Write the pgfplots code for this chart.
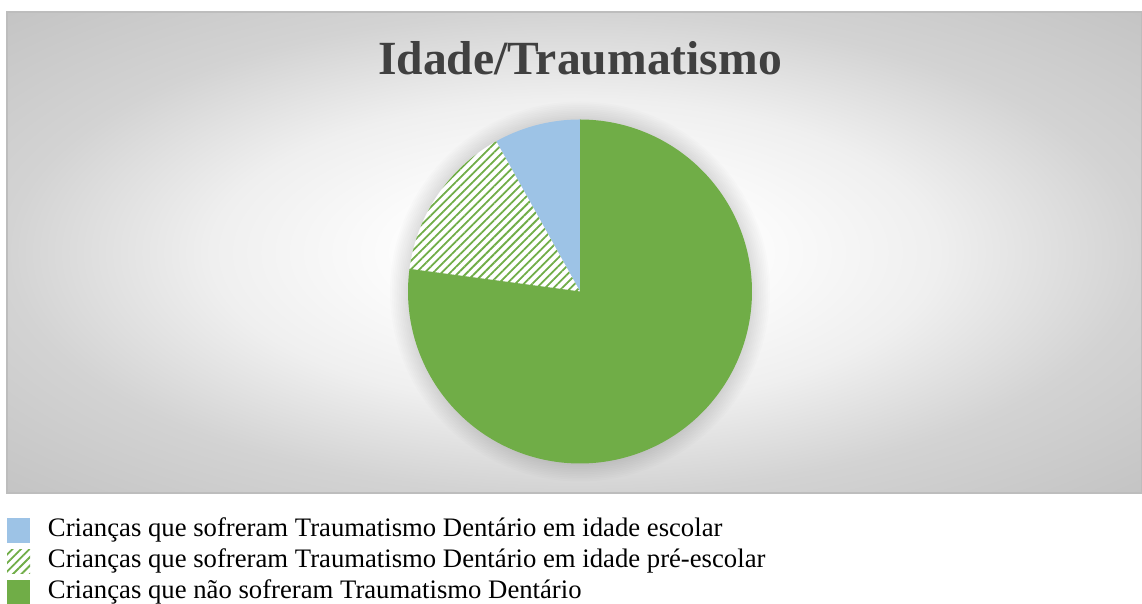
\documentclass[border=0pt]{standalone}
\usepackage{fontspec}
\setmainfont{Liberation Serif}
\usepackage{pgfplots}
\pgfplotsset{compat=1.18}
\usetikzlibrary{patterns.meta}
\definecolor{sliceblue}{HTML}{9DC3E6}
\definecolor{slicegreen}{HTML}{70AD47}
\definecolor{titlegray}{HTML}{404040}
\definecolor{bgmid}{HTML}{EFEFEF}
\definecolor{bgside}{HTML}{D3D3D3}
\definecolor{bgedge}{HTML}{C3C3C3}
\definecolor{bgborder}{HTML}{BDBDBD}
\pgfdeclareradialshading{chartbg}{\pgfpoint{0bp}{0bp}}{%
  color(0bp)=(white); color(6bp)=(white); color(16bp)=(bgmid);
  color(25bp)=(bgside); color(36bp)=(bgedge); color(50bp)=(bgedge)}
\begin{document}
\begin{tikzpicture}
% data: share of children (percent)
\pgfmathsetmacro{\vA}{8.1}  % idade escolar
\pgfmathsetmacro{\vB}{14.8} % idade pre-escolar
\pgfmathsetmacro{\vC}{77.1} % nao sofreram
\pgfmathsetmacro{\aA}{90}
\pgfmathsetmacro{\aB}{\aA+3.6*\vA}
\pgfmathsetmacro{\aC}{\aB+3.6*\vB}
\pgfmathsetmacro{\aD}{\aC+3.6*\vC}
% chart area background (1 unit = 1 px of the reference, y upwards)
\begin{scope}[x=0.5pt,y=0.5pt]
  \shade[shading=chartbg] (7,111) rectangle (1142,592);
  \draw[bgborder, line width=0.6pt] (7,111) rectangle (1142,592);
  \foreach \k in {1,...,10}{
    \fill[black, opacity=0.011] (580,312.5) circle [radius=172+1.8*\k];
  }
  \node[anchor=base, font=\bfseries\fontsize{23.8}{28}\selectfont, text=titlegray] at (580,529) {Idade/Traumatismo};
\end{scope}
\begin{axis}[
  width=571pt, height=302pt, scale only axis,
  xmin=0, xmax=1142, ymin=0, ymax=604,
  hide axis, clip=false,
  legend cell align=left,
  legend image code/.code={\path[#1, draw=none] (0pt,-6.2pt) rectangle (11.5pt,6.2pt);},
  legend style={
    at={(axis cs:7,86)}, anchor=north west,
    draw=none, fill=none, inner sep=0pt, outer sep=0pt,
    font=\fontsize{13.35}{15}\selectfont,
    row sep=3pt,
    nodes={inner sep=0pt, text height=9.5pt, text depth=3pt},
    /tikz/every odd column/.append style={column sep=9pt},
  },
]
\addplot[fill=sliceblue, draw=none, domain=\aA:\aB, samples=40]
  ({580+172*cos(x)}, {312.5+172*sin(x)}) -- (axis cs:580,312.5) -- cycle;
\addlegendentry{Crianças que sofreram Traumatismo Dentário em idade escolar}
\addplot[fill=white, draw=none, domain=\aB:\aC, samples=60,
  postaction={pattern={Lines[angle=45,distance=3pt,line width=0.9pt]}, pattern color=slicegreen}]
  ({580+172*cos(x)}, {312.5+172*sin(x)}) -- (axis cs:580,312.5) -- cycle;
\addlegendentry{Crianças que sofreram Traumatismo Dentário em idade pré-escolar}
\addplot[fill=slicegreen, draw=none, domain=\aC:\aD, samples=200]
  ({580+172*cos(x)}, {312.5+172*sin(x)}) -- (axis cs:580,312.5) -- cycle;
\addlegendentry{Crianças que não sofreram Traumatismo Dentário}
\end{axis}
\pgfresetboundingbox
\path (0,0) rectangle (571pt,302pt);
\end{tikzpicture}
\end{document}
